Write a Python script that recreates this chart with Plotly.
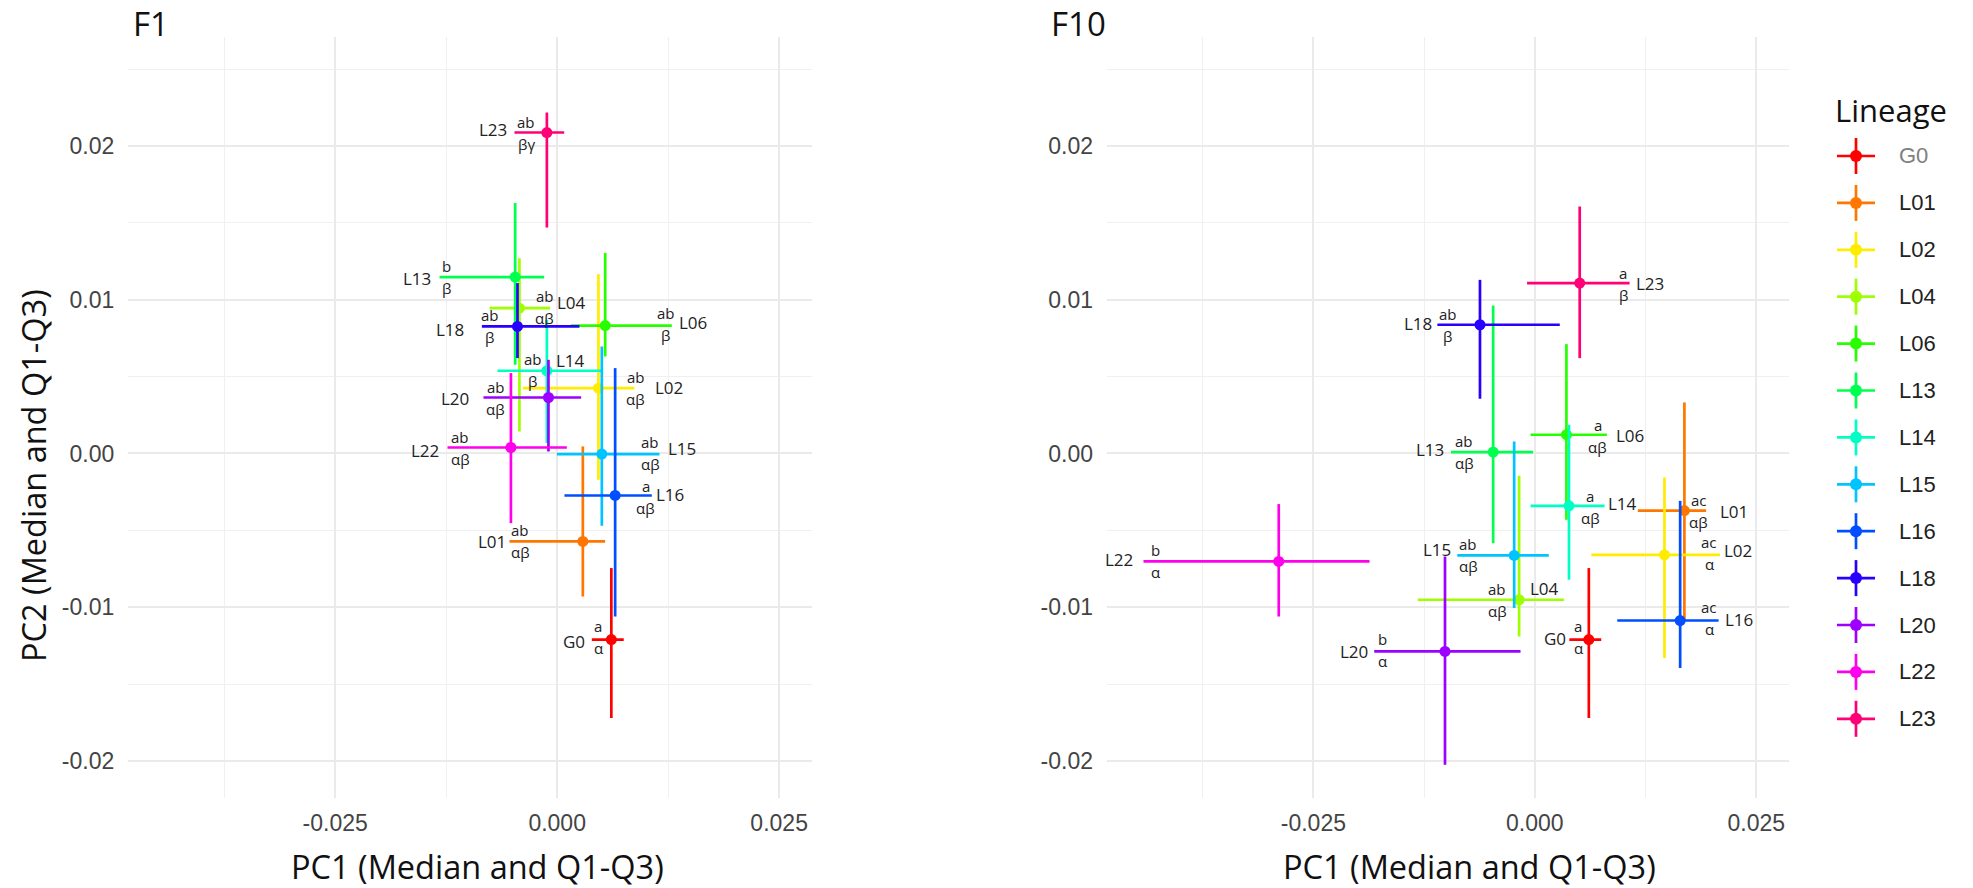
import plotly.graph_objects as go

# ---------------- data ----------------
lineages = ["G0", "L01", "L02", "L04", "L06", "L13", "L14", "L15", "L16", "L18", "L20", "L22", "L23"]
colors = ["#FF0000", "#FF7600", "#FFEC00", "#9DFF00", "#27FF00", "#00FF4E", "#00FFC4",
          "#00C4FF", "#004EFF", "#2700FF", "#9D00FF", "#FF00EC", "#FF0076"]

# F1 panel: PC1 / PC2 medians and quartiles
f1_pc1_med = [0.0061, 0.00289, 0.00465, -0.00425, 0.00541, -0.00473, -0.00116, 0.00503, 0.00653, -0.00447, -0.00098, -0.00521, -0.00116]
f1_pc1_q1 = [0.0039, -0.00537, -0.00386, -0.00762, 0.00154, -0.01325, -0.00672, -0.00003, 0.00082, -0.00848, -0.0083, -0.01235, -0.00481]
f1_pc1_q3 = [0.0075, 0.0054, 0.0087, -0.00079, 0.01291, -0.00146, 0.00503, 0.01152, 0.01066, 0.00251, 0.0027, 0.00109, 0.00079]
f1_pc2_med = [-0.0121, -0.00572, 0.00425, 0.00945, 0.00832, 0.01147, 0.00538, -0.00004, -0.00273, 0.00826, 0.00364, 0.00039, 0.02087]
f1_pc2_q1 = [-0.0172, -0.0093, -0.00171, 0.00143, 0.00631, 0.00577, 0.00068, -0.0047, -0.0106, 0.0062, 0.00013, -0.00453, 0.01469]
f1_pc2_q3 = [-0.00745, 0.00046, 0.01166, 0.0127, 0.01303, 0.01628, 0.00869, 0.00696, 0.00555, 0.01108, 0.00609, 0.00523, 0.02217]

# F10 panel
f10_pc1_med = [0.0061, 0.01689, 0.01464, -0.00177, 0.00357, -0.0047, 0.00386, -0.00233, 0.01641, -0.00619, -0.01014, -0.02891, 0.00507]
f10_pc1_q1 = [0.0039, 0.01163, 0.00638, -0.01321, -0.00048, -0.00946, -0.00048, -0.00875, 0.00931, -0.011, -0.01813, -0.04418, -0.00087]
f10_pc1_q3 = [0.0075, 0.01934, 0.02091, 0.00331, 0.00814, -0.00019, 0.00788, 0.00158, 0.02075, 0.00282, -0.00161, -0.01866, 0.0107]
f10_pc2_med = [-0.0121, -0.00371, -0.00659, -0.00951, 0.00122, 0.00009, -0.0034, -0.00663, -0.01086, 0.00837, -0.01287, -0.00702, 0.01108]
f10_pc2_q1 = [-0.0172, -0.01081, -0.0133, -0.0119, -0.00431, -0.00583, -0.00821, -0.01005, -0.01395, 0.00356, -0.02024, -0.0106, 0.0062]
f10_pc2_q3 = [-0.00745, 0.00332, -0.00156, -0.00145, 0.00711, 0.00962, 0.00187, 0.00078, -0.00308, 0.01129, -0.0067, -0.00329, 0.01606]

# significance letters
f1_latin = ["a", "ab", "ab", "ab", "ab", "b", "ab", "ab", "a", "ab", "ab", "ab", "ab"]
f1_greek = ["α", "αβ", "αβ", "αβ", "β", "β", "β", "αβ", "αβ", "β", "αβ", "αβ", "βγ"]
f10_latin = ["a", "ac", "ac", "ab", "a", "ab", "a", "ab", "ac", "ab", "b", "b", "a"]
f10_greek = ["α", "αβ", "α", "αβ", "αβ", "αβ", "αβ", "αβ", "α", "β", "α", "α", "β"]

# label placement (data units, repelled positions)
f1_letter_x = [0.00465, -0.00417, 0.00884, -0.00139, 0.01222, -0.01243, -0.00276, 0.01047, 0.01000, -0.00758, -0.00689, -0.01092, -0.00349]
f1_letter_y = [-0.01190, -0.00566, 0.00425, 0.00950, 0.00840, 0.01147, 0.00544, 0.00004, -0.00280, 0.00830, 0.00363, 0.00035, 0.02083]
f1_name_x = [0.00184, -0.00736, 0.01265, 0.00165, 0.01535, -0.01580, 0.00146, 0.01404, 0.01273, -0.01205, -0.01149, -0.01494, -0.00724]
f1_name_y = [-0.01222, -0.00572, 0.00432, 0.00982, 0.00854, 0.01136, 0.00605, 0.00035, -0.00268, 0.00809, 0.00360, 0.00020, 0.02104]
f10_letter_x = [0.00488, 0.01853, 0.01967, -0.00424, 0.00713, -0.00794, 0.00627, -0.00751, 0.01967, -0.00983, -0.01720, -0.04287, 0.00999]
f10_letter_y = [-0.01195, -0.00371, -0.00645, -0.00955, 0.00116, 0.00008, -0.00350, -0.00657, -0.01070, 0.00837, -0.01280, -0.00699, 0.01102]
f10_name_x = [0.00225, 0.02252, 0.02290, 0.00105, 0.01078, -0.01182, 0.00988, -0.01107, 0.02309, -0.01314, -0.02038, -0.04695, 0.01303]
f10_name_y = [-0.01200, -0.00377, -0.00631, -0.00880, 0.00115, 0.00024, -0.00322, -0.00626, -0.01077, 0.00848, -0.01287, -0.00691, 0.01108]

x_tickvals = [-0.025, 0.0, 0.025]
x_ticktext = ["-0.025", "0.000", "0.025"]
y_tickvals = [-0.02, -0.01, 0.0, 0.01, 0.02]
y_ticktext = ["-0.02", "-0.01", "0.00", "0.01", "0.02"]
panel_titles = ["F1", "F10"]
x_title = "PC1 (Median and Q1-Q3)"
y_title = "PC2 (Median and Q1-Q3)"
legend_title = "Lineage"

# ---------------- figure ----------------
W, H = 1973, 888
fig = go.Figure()

panels = [
    dict(xa="x", ya="y", med_x=f1_pc1_med, q1x=f1_pc1_q1, q3x=f1_pc1_q3,
         med_y=f1_pc2_med, q1y=f1_pc2_q1, q3y=f1_pc2_q3,
         lat=f1_latin, gre=f1_greek, lx=f1_letter_x, ly=f1_letter_y, nx=f1_name_x, ny=f1_name_y),
    dict(xa="x2", ya="y2", med_x=f10_pc1_med, q1x=f10_pc1_q1, q3x=f10_pc1_q3,
         med_y=f10_pc2_med, q1y=f10_pc2_q1, q3y=f10_pc2_q3,
         lat=f10_latin, gre=f10_greek, lx=f10_letter_x, ly=f10_letter_y, nx=f10_name_x, ny=f10_name_y),
]

annotations = []
label_font = dict(family="Open Sans", size=17, color="#222222")
letter_font = dict(family="Open Sans", size=15, color="#222222")

for p in panels:
    for i, lin in enumerate(lineages):
        c = colors[i]
        mx, my = p["med_x"][i], p["med_y"][i]
        fig.add_trace(go.Scatter(
            x=[mx], y=[my], xaxis=p["xa"], yaxis=p["ya"], mode="markers",
            name=lin, showlegend=False,
            marker=dict(color=c, size=11),
            error_x=dict(type="data", symmetric=False,
                         array=[p["q3x"][i] - mx], arrayminus=[mx - p["q1x"][i]],
                         color=c, thickness=2.7, width=0),
            error_y=dict(type="data", symmetric=False,
                         array=[p["q3y"][i] - my], arrayminus=[my - p["q1y"][i]],
                         color=c, thickness=2.7, width=0),
        ))
        annotations.append(dict(x=p["nx"][i], y=p["ny"][i], xref=p["xa"], yref=p["ya"],
                                text=lin, showarrow=False, xanchor="center", yanchor="middle",
                                font=label_font))
        annotations.append(dict(x=p["lx"][i], y=p["ly"][i], xref=p["xa"], yref=p["ya"],
                                text=p["lat"][i], showarrow=False, xanchor="center", yanchor="middle",
                                yshift=11, font=letter_font))
        annotations.append(dict(x=p["lx"][i], y=p["ly"][i], xref=p["xa"], yref=p["ya"],
                                text=p["gre"][i], showarrow=False, xanchor="center", yanchor="middle",
                                yshift=-11, font=letter_font))

xrange = [-0.0483, 0.0287]
yrange = [-0.0224, 0.0271]
tick_font = dict(family="Liberation Sans", size=23, color="#444444")
grid_major = "#EAEAEA"
grid_minor = "#F0F0F0"

def xaxis_def(domain):
    return dict(domain=domain, range=xrange, tickmode="array", tickvals=x_tickvals, ticktext=x_ticktext,
                showgrid=True, gridcolor=grid_major, gridwidth=1.8, zeroline=False, showline=False,
                ticks="", ticklabelstandoff=9, tickfont=tick_font,
                minor=dict(tickmode="linear", tick0=0.0125, dtick=0.025, showgrid=True,
                           gridcolor=grid_minor, gridwidth=1))

def yaxis_def(domain, anchor):
    return dict(domain=domain, range=yrange, tickmode="array", tickvals=y_tickvals, ticktext=y_ticktext,
                showgrid=True, gridcolor=grid_major, gridwidth=1.8, zeroline=False, showline=False,
                ticks="", ticklabelstandoff=13, tickfont=tick_font, anchor=anchor,
                minor=dict(tickmode="linear", tick0=0.005, dtick=0.01, showgrid=True,
                           gridcolor=grid_minor, gridwidth=1))

ydom = [1 - 798 / H, 1 - 36.7 / H]
fig.update_layout(
    xaxis=dict(xaxis_def([128.3 / W, 812 / W]), anchor="y"),
    yaxis=yaxis_def(ydom, "x"),
    xaxis2=dict(xaxis_def([1107 / W, 1789 / W]), anchor="y2"),
    yaxis2=yaxis_def(ydom, "x2"),
)

title_font = dict(family="Open Sans", size=33, color="#111111")
axis_title_font = dict(family="Open Sans", size=32.5, color="#111111")

annotations += [
    dict(x=131 / W, y=1 - 24 / H, xref="paper", yref="paper", text=panel_titles[0], showarrow=False,
         xanchor="left", yanchor="middle", font=title_font),
    dict(x=1049 / W, y=1 - 24 / H, xref="paper", yref="paper", text=panel_titles[1], showarrow=False,
         xanchor="left", yanchor="middle", font=title_font),
    dict(x=477 / W, y=1 - 866 / H, xref="paper", yref="paper", text=x_title, showarrow=False,
         xanchor="center", yanchor="middle", font=axis_title_font),
    dict(x=1469 / W, y=1 - 866 / H, xref="paper", yref="paper", text=x_title, showarrow=False,
         xanchor="center", yanchor="middle", font=axis_title_font),
    dict(x=34 / W, y=1 - 476 / H, xref="paper", yref="paper", text=y_title, showarrow=False,
         textangle=-90, xanchor="center", yanchor="middle", font=axis_title_font),
    dict(x=1833 / W, y=1 - 110 / H, xref="paper", yref="paper", text=legend_title, showarrow=False,
         xanchor="left", yanchor="middle", font=dict(family="Open Sans", size=31, color="#111111")),
]

# manual legend (crosshair keys like ggplot)
shapes = []
leg_y0, leg_dy = 156, 46.9
for i, lin in enumerate(lineages):
    c = colors[i]
    cy = leg_y0 + i * leg_dy
    cx = 1856
    shapes.append(dict(type="line", xref="paper", yref="paper", x0=(cx - 19) / W, x1=(cx + 19) / W,
                       y0=1 - cy / H, y1=1 - cy / H, line=dict(color=c, width=2.7)))
    shapes.append(dict(type="line", xref="paper", yref="paper", x0=cx / W, x1=cx / W,
                       y0=1 - (cy - 18) / H, y1=1 - (cy + 18) / H, line=dict(color=c, width=2.7)))
    shapes.append(dict(type="circle", xref="paper", yref="paper", x0=(cx - 6) / W, x1=(cx + 6) / W,
                       y0=1 - (cy + 6) / H, y1=1 - (cy - 6) / H, fillcolor=c, line=dict(color=c, width=0)))
    annotations.append(dict(x=1897 / W, y=1 - cy / H, xref="paper", yref="paper", text=lin, showarrow=False,
                            xanchor="left", yanchor="middle",
                            font=dict(family="Liberation Sans", size=22,
                                      color="#808080" if lin == "G0" else "#222222")))

fig.update_layout(
    width=W, height=H, margin=dict(l=0, r=0, t=0, b=0),
    paper_bgcolor="white", plot_bgcolor="white",
    showlegend=False, annotations=annotations, shapes=shapes,
)

fig.write_html("out.html", config={"displayModeBar": False},
               post_script="document.body.style.margin='0';document.body.style.overflow='hidden';")
